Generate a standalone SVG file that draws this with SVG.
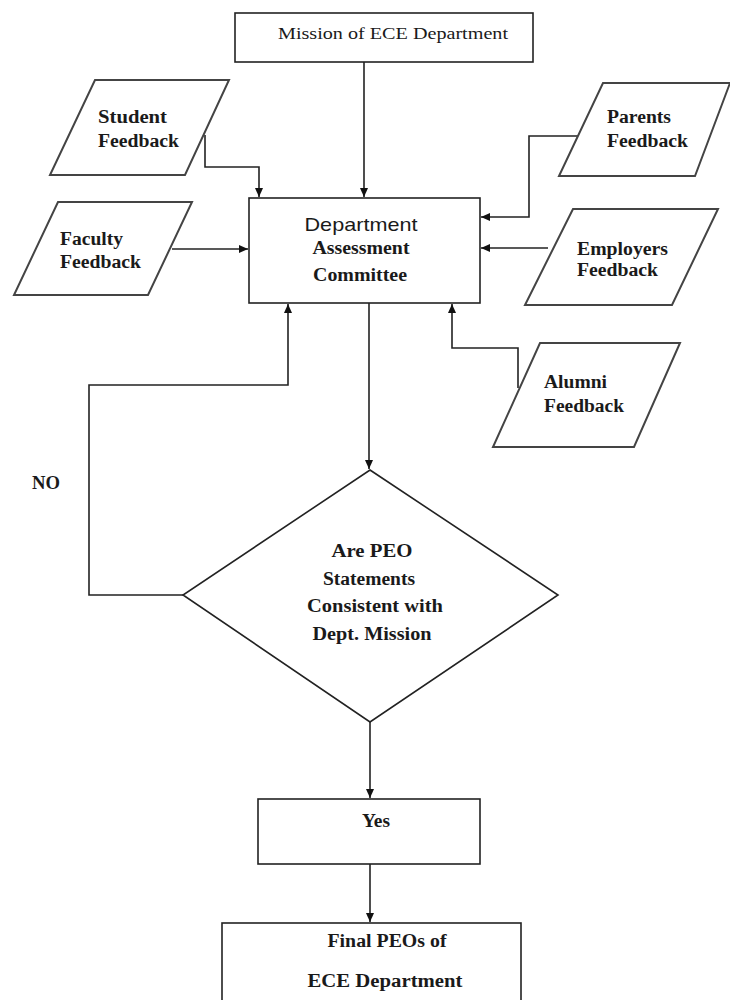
<svg xmlns="http://www.w3.org/2000/svg" width="730" height="1000" viewBox="0 0 730 1000">
<style>
.box{fill:#fff;stroke:#222;stroke-width:1.6}
.para{fill:#fff;stroke:#444;stroke-width:2}
.ln{fill:none;stroke:#222;stroke-width:1.6}
.t{font-family:"Liberation Serif","Times New Roman",serif;font-size:18px;font-weight:bold;fill:#1a1a1a}
.r{font-family:"Liberation Serif","Times New Roman",serif;font-size:17px;fill:#1a1a1a}
.s{font-family:"Liberation Sans",Arial,sans-serif;font-size:19px;fill:#1a1a1a}
</style>
<defs>
<marker id="ah" markerWidth="10" markerHeight="10" refX="9" refY="5" orient="auto" markerUnits="userSpaceOnUse">
<path d="M0,1 L9,5 L0,9 Z" fill="#111"/>
</marker>
</defs>
<rect width="730" height="1000" fill="#fff"/>
<g id="connectors">
<path class="ln" d="M364,62 V197" marker-end="url(#ah)"/>
<path class="ln" d="M205,135 V167 H259 V197" marker-end="url(#ah)"/>
<path class="ln" d="M172,249 H248" marker-end="url(#ah)"/>
<path class="ln" d="M578,136 H529 V217 H481" marker-end="url(#ah)"/>
<path class="ln" d="M548,248 H481" marker-end="url(#ah)"/>
<path class="ln" d="M518,388 V348 H452 V304" marker-end="url(#ah)"/>
<path class="ln" d="M369,303 V469" marker-end="url(#ah)"/>
<path class="ln" d="M183,595 H89 V385 H288 V304" marker-end="url(#ah)"/>
<path class="ln" d="M370,722 V798" marker-end="url(#ah)"/>
<path class="ln" d="M370,864 V922" marker-end="url(#ah)"/>
</g>
<g id="mission">
<rect class="box" x="235" y="13" width="298" height="49"/>
<text class="r" x="393" y="39" text-anchor="middle" textLength="230" lengthAdjust="spacingAndGlyphs">Mission of ECE Department</text>
</g>
<g id="student">
<polygon class="para" points="95,80 229,80 185,175 50,175"/>
<text class="t" x="98" y="123" textLength="69" lengthAdjust="spacingAndGlyphs">Student</text>
<text class="t" x="98" y="147" textLength="81" lengthAdjust="spacingAndGlyphs">Feedback</text>
</g>
<g id="faculty">
<polygon class="para" points="58,202 192,202 148,295 14,295"/>
<text class="t" x="60" y="245" textLength="63" lengthAdjust="spacingAndGlyphs">Faculty</text>
<text class="t" x="60" y="268" textLength="81" lengthAdjust="spacingAndGlyphs">Feedback</text>
</g>
<g id="parents">
<polygon class="para" points="603,83 730,83 695,176 559,176"/>
<text class="t" x="607" y="123" textLength="64" lengthAdjust="spacingAndGlyphs">Parents</text>
<text class="t" x="607" y="147" textLength="81" lengthAdjust="spacingAndGlyphs">Feedback</text>
</g>
<g id="employers">
<polygon class="para" points="573,209 718,209 672,305 525,305"/>
<text class="t" x="577" y="255" textLength="91" lengthAdjust="spacingAndGlyphs">Employers</text>
<text class="t" x="577" y="276" textLength="81" lengthAdjust="spacingAndGlyphs">Feedback</text>
</g>
<g id="alumni">
<polygon class="para" points="540,343 680,343 634,447 493,447"/>
<text class="t" x="544" y="388" textLength="63" lengthAdjust="spacingAndGlyphs">Alumni</text>
<text class="t" x="544" y="412" textLength="80" lengthAdjust="spacingAndGlyphs">Feedback</text>
</g>
<g id="committee">
<rect class="box" x="249" y="198" width="231" height="105"/>
<text class="s" x="361" y="231" text-anchor="middle" textLength="113" lengthAdjust="spacingAndGlyphs">Department</text>
<text class="t" x="361" y="254" text-anchor="middle" textLength="97" lengthAdjust="spacingAndGlyphs">Assessment</text>
<text class="t" x="360" y="281" text-anchor="middle" textLength="94" lengthAdjust="spacingAndGlyphs">Committee</text>
</g>
<g id="decision">
<polygon class="box" points="370,470 558,595 370,722 183,595"/>
<text class="t" x="372" y="557" text-anchor="middle" textLength="81" lengthAdjust="spacingAndGlyphs">Are PEO</text>
<text class="t" x="369" y="585" text-anchor="middle" textLength="92" lengthAdjust="spacingAndGlyphs">Statements</text>
<text class="t" x="375" y="612" text-anchor="middle" textLength="136" lengthAdjust="spacingAndGlyphs">Consistent with</text>
<text class="t" x="372" y="640" text-anchor="middle" textLength="119" lengthAdjust="spacingAndGlyphs">Dept. Mission</text>
</g>
<g id="no-label">
<text class="t" x="32" y="489" textLength="28" lengthAdjust="spacingAndGlyphs">NO</text>
</g>
<g id="yes">
<rect class="box" x="258" y="799" width="222" height="65"/>
<text class="t" x="376" y="827" text-anchor="middle" textLength="28" lengthAdjust="spacingAndGlyphs">Yes</text>
</g>
<g id="final">
<rect class="box" x="222" y="923" width="299" height="90"/>
<text class="t" x="387" y="947" text-anchor="middle" textLength="119" lengthAdjust="spacingAndGlyphs">Final PEOs of</text>
<text class="t" x="385" y="987" text-anchor="middle" textLength="155" lengthAdjust="spacingAndGlyphs">ECE   Department</text>
</g>
</svg>
